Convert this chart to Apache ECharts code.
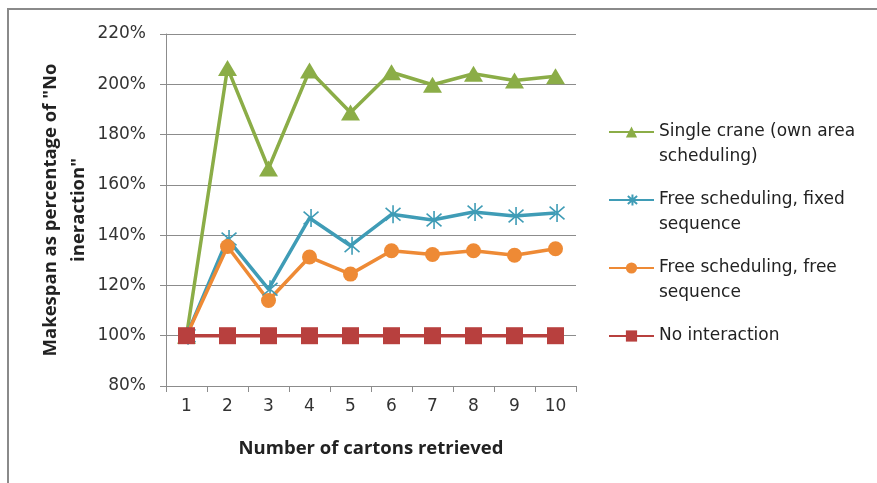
<!DOCTYPE html>
<html>
<head>
<meta charset="utf-8">
<script src="https://cdn.jsdelivr.net/npm/echarts@6/dist/echarts.min.js"></script>
<style>
html,body{margin:0;padding:0;background:#fff;}
#chart{width:877px;height:483px;}
</style>
</head>
<body>
<div id="chart"></div>
<script>
const categories = ['1','2','3','4','5','6','7','8','9','10'];
const seriesNames = [
  'Single crane (own area scheduling)',
  'Free scheduling, fixed sequence',
  'Free scheduling, free sequence',
  'No interaction'
];
const legendLabels = [
  'Single crane (own area\nscheduling)',
  'Free scheduling, fixed\nsequence',
  'Free scheduling, free\nsequence',
  'No interaction'
];
const singleCrane = [100, 206.5, 166.5, 205.5, 188.8, 204.8, 199.8, 204.2, 201.5, 203.2];
const freeFixed   = [100, 138.5, 118.5, 146.8, 135.8, 148.3, 146, 149.2, 147.6, 148.8];
const freeFree    = [100, 135.5, 114, 131.3, 124.5, 133.8, 132.3, 133.8, 132, 134.6];
const noInteraction = [100, 100, 100, 100, 100, 100, 100, 100, 100, 100];
const yTicks = {min: 80, max: 220, interval: 20};

const FONT = '"DejaVu Sans", sans-serif';
const TITLE_FONT = '"Open Sans", "Noto Sans", sans-serif';
const colors = ['#8BAD47', '#3F9CB6', '#EE8A35', '#B8403E'];
const asterisk = 'path://M0,-10 L0,10 M-7.07,-7.07 L7.07,7.07 M-7.07,7.07 L7.07,-7.07 M-10,0 L-10,0.01';

const chart = echarts.init(document.getElementById('chart'), null, {renderer: 'canvas'});

const legendTops = [94.5, 162.5, 230.5, 323.5];
const legends = seriesNames.map((n, i) => ({
  data: [n],
  orient: 'vertical',
  left: 608,
  top: legendTops[i],
  padding: 0,
  itemWidth: 45,
  itemHeight: 14,
  formatter: () => (legendLabels[i].indexOf('\n') >= 0 ? '\n' : '') + legendLabels[i],
  textStyle: {fontFamily: FONT, fontSize: 17, color: '#222', lineHeight: 25}
}));

function mkSeries(name, data, color, symbol, size, extra) {
  return Object.assign({
    name: name,
    type: 'line',
    data: data,
    symbol: symbol,
    symbolSize: size,
    showAllSymbol: true,
    lineStyle: {color: color, width: 3.5},
    itemStyle: {color: color},
    emphasis: {disabled: true},
    animation: false
  }, extra || {});
}

chart.setOption({
  backgroundColor: '#fff',
  animation: false,
  color: colors,
  graphic: [{
    type: 'rect',
    shape: {x: 8, y: 9, width: 900, height: 500},
    style: {fill: 'none', stroke: '#8a8a8a', lineWidth: 2},
    silent: true
  }],
  legend: legends,
  grid: {left: 166, right: 301, top: 34, bottom: 97},
  xAxis: {
    type: 'category',
    data: categories,
    boundaryGap: true,
    name: 'Number of cartons retrieved',
    nameLocation: 'middle',
    nameGap: 53,
    nameTextStyle: {fontFamily: TITLE_FONT, fontSize: 18.5, fontWeight: 'bold', color: '#222'},
    axisLine: {lineStyle: {color: '#8c8c8c', width: 1}},
    axisTick: {show: true, length: 6, lineStyle: {color: '#8c8c8c'}},
    axisLabel: {fontFamily: FONT, fontSize: 17, color: '#333', margin: 12}
  },
  yAxis: {
    type: 'value',
    min: yTicks.min,
    max: yTicks.max,
    interval: yTicks.interval,
    name: 'Makespan as percentage of "No\nineraction"',
    nameLocation: 'middle',
    nameRotate: 90,
    nameGap: 73,
    nameTextStyle: {fontFamily: TITLE_FONT, fontSize: 18.5, fontWeight: 'bold', color: '#222', lineHeight: 28, align: 'center'},
    axisLine: {show: true, lineStyle: {color: '#8c8c8c', width: 1}},
    axisTick: {show: true, length: 6, lineStyle: {color: '#8c8c8c'}},
    splitLine: {show: true, lineStyle: {color: '#8c8c8c', width: 1}},
    axisLabel: {fontFamily: FONT, fontSize: 17, color: '#333', margin: 20, formatter: '{value}%'}
  },
  series: [
    mkSeries(seriesNames[0], singleCrane, colors[0], 'triangle', [19, 16]),
    mkSeries(seriesNames[1], freeFixed, colors[1], asterisk, 18,
      {itemStyle: {color: colors[1], borderColor: colors[1], borderWidth: 1.6}}),
    mkSeries(seriesNames[2], freeFree, colors[2], 'circle', 15),
    mkSeries(seriesNames[3], noInteraction, colors[3], 'rect', 17)
  ]
});
</script>
</body>
</html>
